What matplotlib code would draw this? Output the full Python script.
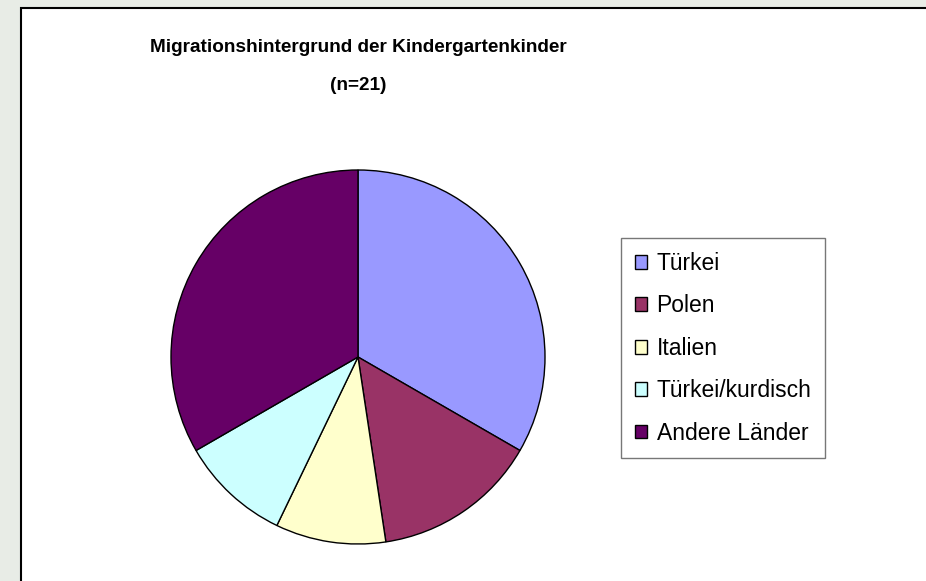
import matplotlib
matplotlib.use("Agg")
import matplotlib.pyplot as plt
from matplotlib.patches import Rectangle, Patch

labels = ["Türkei", "Polen", "Italien", "Türkei/kurdisch", "Andere Länder"]
values = [7, 3, 2, 2, 7]
colors = ["#9999FF", "#993366", "#FFFFCC", "#CCFFFF", "#660066"]
title_line1 = "Migrationshintergrund der Kindergartenkinder"
title_line2 = "(n=21)"

plt.rcParams['font.family'] = ['Liberation Sans', 'DejaVu Sans']

W, H = 926, 581
fig = plt.figure(figsize=(W/100, H/100), dpi=100)
fig.patch.set_facecolor("#E8ECE6")

# inner white chart area
fig.patches.append(Rectangle((21/W, -0.05), 1.1, 1 - 8/H + 0.05, transform=fig.transFigure,
                             facecolor="white", edgecolor="black", linewidth=1.5, zorder=-10))

cx, cy, r = 358, 357, 187
ax = fig.add_axes([(cx - r)/W, 1 - (cy + r)/H, 2*r/W, 2*r/H])
ax.pie(values, colors=colors, startangle=90, counterclock=False,
       wedgeprops=dict(edgecolor="black", linewidth=1))
ax.set_xlim(-1, 1); ax.set_ylim(-1, 1)
ax.set_aspect("auto")
ax.axis("off")

fig.text(358/W, 1 - 47/H, title_line1, ha="center", va="center", fontsize=13.7,
         fontweight="bold")
fig.text(358/W, 1 - 85/H, title_line2, ha="center", va="center", fontsize=13.7,
         fontweight="bold")

handles = [Patch(facecolor=c, edgecolor="black", linewidth=1) for c in colors]
leg = fig.legend(handles, labels, loc="upper left",
                 bbox_to_anchor=(621/W, 1 - 238/H), fontsize=16.5,
                 frameon=True, fancybox=False, edgecolor="#555555",
                 handlelength=0.55, handleheight=0.55, handletextpad=0.4,
                 labelspacing=0.85, borderpad=0.6, borderaxespad=0)
leg.get_frame().set_linewidth(1)

fig.savefig("out.png", dpi=100, facecolor=fig.get_facecolor())
